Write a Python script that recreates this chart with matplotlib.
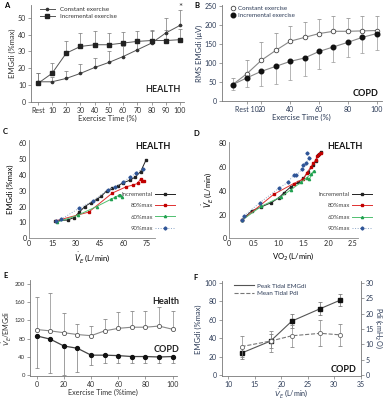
import numpy as np
import matplotlib
matplotlib.use("Agg")
import matplotlib.pyplot as plt
from matplotlib.lines import Line2D

plt.rcParams['font.family'] = ['Lato', 'DejaVu Sans']
plt.rcParams['mathtext.fontset'] = 'dejavusans'

W, H = 385, 400

# ---- data ----
time_pct = [0, 10, 20, 30, 40, 50, 60, 70, 80, 90, 100]

a_const = [12, 12, 14, 17, 20.5, 23.5, 27, 31, 35, 41, 45.5]
a_const_err = [5, 3, 4.5, 5.5, 5.5, 6.5, 6, 6, 7, 9, 9]
a_incr = [11, 17, 29, 33, 34, 34, 35, 36, 36.5, 36.5, 37]
a_incr_err = [6, 6, 7.5, 8, 8, 7, 6.5, 6, 6.5, 6.5, 6.5]

b_const = [43, 72, 107, 133, 157, 167, 177, 183, 183, 184, 185]
b_const_err = [17, 36, 49, 45, 39, 41, 37, 41, 35, 40, 39]
b_incr = [43, 61, 78, 91, 104, 113, 130, 142, 154, 167, 177]
b_incr_err = [13, 23, 38, 46, 49, 48, 45, 40, 39, 42, 42]

c_inc_x = [16.5, 24.5, 28.5, 32, 35.5, 39.5, 43, 46, 49.5, 53, 56.5, 60, 64, 67.5, 71, 74.5]
c_inc_y = [11, 11.5, 13, 16.5, 20, 22.5, 24.5, 26.5, 30, 31.5, 33, 35, 36.5, 38.5, 42, 49.5]
c_80_x = [17, 38, 53, 62, 66, 69, 71, 72, 73]
c_80_y = [11, 16.5, 28.5, 32.5, 33.5, 34.5, 37.5, 36, 36]
c_60_x = [17.5, 31, 43, 52, 55, 57, 58, 59]
c_60_y = [10, 14.5, 20, 24.5, 26, 27, 27.5, 26]
c_90_x = [17, 20.5, 32, 41, 50, 55, 60, 64.5, 68, 72.5]
c_90_y = [11, 12, 19, 23.5, 30.5, 32.5, 35.5, 38.7, 41, 43.8]

d_inc_x = [0.25, 0.45, 0.65, 0.85, 1.0, 1.1, 1.25, 1.4, 1.5, 1.6, 1.7, 1.75, 1.8, 1.85]
d_inc_y = [15, 23, 26.5, 30, 34, 38, 43.5, 47, 50.5, 56, 62, 65, 70, 73]
d_80_x = [0.25, 0.9, 1.3, 1.5, 1.57, 1.65, 1.7, 1.75, 1.78, 1.82, 1.85]
d_80_y = [15, 37, 46, 50, 55, 60, 63, 66, 69, 71, 72]
d_60_x = [0.25, 0.65, 1.05, 1.25, 1.45, 1.57, 1.65, 1.72, 1.62]
d_60_y = [15, 27, 35, 41, 47, 51, 54, 57, 50]
d_90_x = [0.25, 0.3, 0.62, 1.0, 1.18, 1.3, 1.35, 1.47, 1.5, 1.55, 1.62, 1.58]
d_90_y = [15, 19, 30, 42, 47, 53, 53, 58, 62, 63, 68, 72]

e_health = [100, 97, 93, 89, 86.5, 97, 102.5, 105, 105, 107.5, 100.5]
e_health_err = [71, 83, 42, 22, 21, 27, 36, 35, 35, 41, 40]
e_copd = [86, 79, 64, 59, 44, 44, 43, 41, 41, 40, 41]
e_copd_err = [69, 73, 64, 51, 22, 17, 16, 15, 15, 14, 15]

f_ve = [12.5, 18, 22, 27.4, 31.1]
f_emg = [24, 37, 58.5, 72, 81]
f_emg_err = [6, 8, 7.5, 7, 6.5]
f_pdi = [9.3, 11.1, 12.8, 13.6, 13.1]
f_pdi_err = [3.4, 3.4, 3.5, 4.2, 3.6]

navy = '#2c3b57'
grey = '#777777'

fig = plt.figure(figsize=(W / 100, H / 100), dpi=100)


def px_axes(l, t, r, b):
    return fig.add_axes([l / W, 1 - b / H, (r - l) / W, (b - t) / H])


def ftext(x, y, s, **kw):
    fig.text(x / W, 1 - y / H, s, **kw)


def style(ax, color, ticks=True):
    for s in ['top', 'right']:
        ax.spines[s].set_visible(False)
    for s in ['left', 'bottom']:
        ax.spines[s].set_color(grey)
        ax.spines[s].set_linewidth(0.6)
    ax.tick_params(labelsize=5, colors=color, width=0.5,
                   length=2 if ticks else 0, pad=1.5)
    ax.tick_params(color=grey)


zeros = np.zeros(len(time_pct))

# ---- A ----
ax = px_axes(31, 5, 184, 102)
ax.errorbar(time_pct, a_const, yerr=[zeros, a_const_err], color='#555555', lw=0.7,
            marker='o', ms=1.6, mfc='#333333', mec='#333333', ecolor=grey,
            elinewidth=0.5, capsize=1.3, capthick=0.5)
ax.errorbar(time_pct, a_incr, yerr=[zeros, a_incr_err], color='#555555', lw=0.7,
            marker='s', ms=2.4, mfc='#222222', mec='#222222', ecolor=grey,
            elinewidth=0.5, capsize=1.3, capthick=0.5)
a_handles = [Line2D([], [], color='#555555', lw=0.7, marker='o', ms=1.6,
                    mfc='#333333', mec='#333333'),
             Line2D([], [], color='#555555', lw=0.7, marker='s', ms=2.4,
                    mfc='#222222', mec='#222222')]
ax.set_xlim(-4.8, 102.8)
ax.set_ylim(0, 57.6)
ax.set_xticks(time_pct)
ax.set_xticklabels(['Rest'] + [str(t) for t in time_pct[1:]])
ax.set_yticks(range(0, 51, 10))
style(ax, '#333333')
ax.set_xlabel('Exercise Time (%)', fontsize=5.5, color='#333333', labelpad=1)
ax.set_ylabel('EMGdi (%max)', fontsize=5.5, color='#333333', labelpad=1)
ax.legend(a_handles, ['Constant exercise', 'Incremental exercise'], loc='upper left',
          bbox_to_anchor=(0.02, 1.04), frameon=False, fontsize=4.5,
          handlelength=2.5, labelspacing=0.3, labelcolor='#333333')
ax.annotate('*', (100, 56), ha='center', va='center', fontsize=7, color='#333333',
            annotation_clip=False)
ftext(163, 90, 'HEALTH', fontsize=6.5, fontweight='bold', ha='center', va='center', color='#222222')
ftext(4, 5, 'A', fontsize=5.5, fontweight='bold', ha='left', va='center')

# ---- B ----
ax = px_axes(221.7, 5, 381.7, 101)
ax.errorbar(time_pct, b_const, yerr=[zeros, b_const_err], color='#888888', lw=0.8,
            marker='o', ms=3.3, mfc='white', mec='#444444', mew=0.6, ecolor='#999999',
            elinewidth=0.5, capsize=1.3, capthick=0.5)
ax.errorbar(time_pct, b_incr, yerr=[b_incr_err, zeros], color='#888888', lw=0.8,
            marker='o', ms=3.3, mfc='#111111', mec='#111111', ecolor='#999999',
            elinewidth=0.5, capsize=1.3, capthick=0.5)
b_handles = [Line2D([], [], ls='none', marker='o', ms=3.3, mfc='white', mec='#444444', mew=0.6),
             Line2D([], [], ls='none', marker='o', ms=3.3, mfc='#111111', mec='#111111')]
ax.set_xlim(-7.6, 103.5)
ax.set_ylim(0, 252)
ax.set_xticks([10, 20, 40, 60, 80, 100])
ax.set_xticklabels(['Rest 10', '20', '40', '60', '80', '100'])
ax.set_yticks(range(0, 251, 50))
style(ax, navy)
ax.set_xlabel('Exercise Time (%)', fontsize=5.5, color=navy, labelpad=1)
ax.set_ylabel('RMS EMGdi (\u03bcV)', fontsize=5.5, color=navy, labelpad=1)
ax.legend(b_handles, ['Constant exercise', 'Incremental exercise'], loc='upper left',
          bbox_to_anchor=(0.02, 1.05), frameon=False, fontsize=4.5,
          handlelength=0.8, handletextpad=0.4, labelspacing=0.25, labelcolor=navy)
ftext(366, 94, 'COPD', fontsize=6.5, fontweight='bold', ha='center', va='center', color='#111111')
ftext(194, 6, 'B', fontsize=5.5, fontweight='bold', ha='left', va='center')


def vent_panel(ax, series):
    styles = [('Incremental', '#222222', '#222222', '-', 's'),
              ('80%max', '#e03030', '#c00000', '-', 's'),
              ('60%max', '#50c070', '#20a050', '-', '^'),
              ('90%max', '#8fa8c8', '#2f5597', ':', 'D')]
    for (xs, ys), (lab, lc, mc, ls, mk) in zip(series, styles):
        ax.plot(xs, ys, color=lc, ls=ls, lw=0.7, marker=mk, ms=1.6,
                mfc=mc, mec=mc, label=lab)
    style(ax, '#222222', ticks=False)
    ax.spines['left'].set_color('#888888')
    ax.spines['bottom'].set_color('#888888')


# ---- C ----
ax = px_axes(29, 139.8, 154.8, 238.3)
vent_panel(ax, [(c_inc_x, c_inc_y), (c_80_x, c_80_y), (c_60_x, c_60_y), (c_90_x, c_90_y)])
ax.set_xlim(0, 80)
ax.set_ylim(0, 62)
ax.set_xticks(range(0, 76, 15))
ax.set_yticks(range(0, 61, 10))
ax.set_xlabel(r'$\dot{V}_E$ (L/min)', fontsize=5.5, labelpad=2)
ax.set_ylabel('EMGdi (%max)', fontsize=5.5, labelpad=3)
ax.legend(loc='upper right', bbox_to_anchor=(1.2, 0.53), frameon=False, fontsize=4.3,
          markerfirst=False, handlelength=3.2, handletextpad=0.4, labelspacing=1.05,
          labelcolor='#444444')
ftext(153, 147, 'HEALTH', fontsize=6.5, fontweight='bold', ha='center', va='center', color='#111111')
ftext(3, 132, 'C', fontsize=5.5, fontweight='bold', ha='left', va='center')

# ---- D ----
ax = px_axes(229.3, 141.7, 357.7, 238.3)
vent_panel(ax, [(d_inc_x, d_inc_y), (d_80_x, d_80_y), (d_60_x, d_60_y), (d_90_x, d_90_y)])
ax.set_xlim(0, 2.6)
ax.set_ylim(0, 81.3)
ax.set_xticks(np.arange(0, 2.51, 0.5))
ax.set_xticklabels(['0', '0.5', '1.0', '1.5', '2.0', '2.5'])
ax.set_yticks(range(0, 81, 20))
ax.set_xlabel(r'VO$_2$ (L/min)', fontsize=5.5, labelpad=2)
ax.set_ylabel(r'$\dot{V}_E$ (L/min)', fontsize=5.5, labelpad=3)
ax.legend(loc='upper right', bbox_to_anchor=(1.15, 0.54), frameon=False, fontsize=4.3,
          markerfirst=False, handlelength=3.2, handletextpad=0.4, labelspacing=1.05,
          labelcolor='#444444')
ftext(345, 147, 'HEALTH', fontsize=6.5, fontweight='bold', ha='center', va='center', color='#111111')
ftext(193, 133, 'D', fontsize=5.5, fontweight='bold', ha='left', va='center')

# ---- E ----
ax = px_axes(30, 280.3, 176.7, 376)
ax.errorbar(time_pct, e_health, yerr=[zeros, e_health_err], color='#888888', lw=0.8,
            marker='o', ms=3, mfc='white', mec='#555555', mew=0.6, ecolor='#888888',
            elinewidth=0.5, capsize=1.3, capthick=0.5)
ax.errorbar(time_pct, e_copd, yerr=[e_copd_err, zeros], color='#444444', lw=0.9,
            marker='o', ms=2.8, mfc='#111111', mec='#111111', ecolor='#777777',
            elinewidth=0.5, capsize=1.3, capthick=0.5)
ax.set_xlim(-4.9, 103)
ax.set_ylim(-1.5, 207.4)
ax.set_xticks(range(0, 101, 20))
ax.set_yticks(range(0, 201, 40))
style(ax, '#333333')
ax.tick_params(axis='y', labelsize=4.3)
ax.set_xlabel('Exercise Time (%time)', fontsize=5.2, color='#333333', labelpad=0.5)
ax.set_ylabel(r'$\dot{V}_E$/EMGdi', fontsize=5.2, color='#333333', labelpad=0.5)
ftext(179, 301, 'Health', fontsize=6.5, fontweight='bold', ha='right', va='center', color='#222222')
ftext(179, 349, 'COPD', fontsize=6.5, fontweight='bold', ha='right', va='center', color='#222222')
ftext(3, 275, 'E', fontsize=5.5, fontweight='bold', ha='left', va='center')

# ---- F ----
ax = px_axes(221.7, 281.3, 360.7, 376.3)
ax2 = ax.twinx()
ax.errorbar(f_ve, f_emg, yerr=f_emg_err, color='#555555', lw=0.8, marker='s', ms=2.2,
            mfc='#111111', mec='#111111', ecolor='#666666', elinewidth=0.5,
            capsize=1.3, capthick=0.5)
ax2.errorbar(f_ve, f_pdi, yerr=f_pdi_err, color='#777777', lw=0.8, ls='--', marker='o',
             ms=3, mfc='white', mec='#666666', mew=0.6, ecolor='#888888', elinewidth=0.5,
             capsize=1.3, capthick=0.5)
f_handles = [Line2D([], [], color='#555555', lw=0.8),
             Line2D([], [], color='#777777', lw=0.8, ls='--')]
ax.set_xlim(8.75, 35.02)
ax.set_ylim(-1.1, 101.5)
ax2.set_ylim(-1.1 * 0.3, 101.5 * 0.3)
ax.set_xticks(range(10, 36, 5))
ax.set_yticks(range(0, 101, 20))
ax2.set_yticks(range(0, 31, 5))
style(ax, navy)
ax2.spines['top'].set_visible(False)
ax2.spines['left'].set_visible(False)
ax2.spines['bottom'].set_visible(False)
ax2.spines['right'].set_color(grey)
ax2.spines['right'].set_linewidth(0.6)
ax2.tick_params(labelsize=5, colors=navy, width=0.5, length=2, pad=1.5)
ax2.tick_params(color=grey)
ax.set_xlabel(r'$\dot{V}_E$ (L/min)', fontsize=5.2, color=navy, labelpad=0)
ax.set_ylabel('EMGdi (%max)', fontsize=5.5, color=navy, labelpad=2)
ftext(378.5, 328, r'Pdi (cmH$_2$O)', fontsize=5.2, color=navy, rotation=270,
      ha='center', va='center')
ax.legend(f_handles, ['Peak Tidal EMGdi', 'Mean Tidal Pdi'], loc='upper left',
          bbox_to_anchor=(0.05, 1.04), frameon=False, fontsize=4.5,
          handlelength=3.2, handletextpad=0.5, labelspacing=0.35, labelcolor=navy)
ftext(344, 369, 'COPD', fontsize=6.5, fontweight='bold', ha='center', va='center', color='#111111')
ftext(193, 277, 'F', fontsize=5.5, fontweight='bold', ha='left', va='center')

fig.savefig('out.png', dpi=100)
